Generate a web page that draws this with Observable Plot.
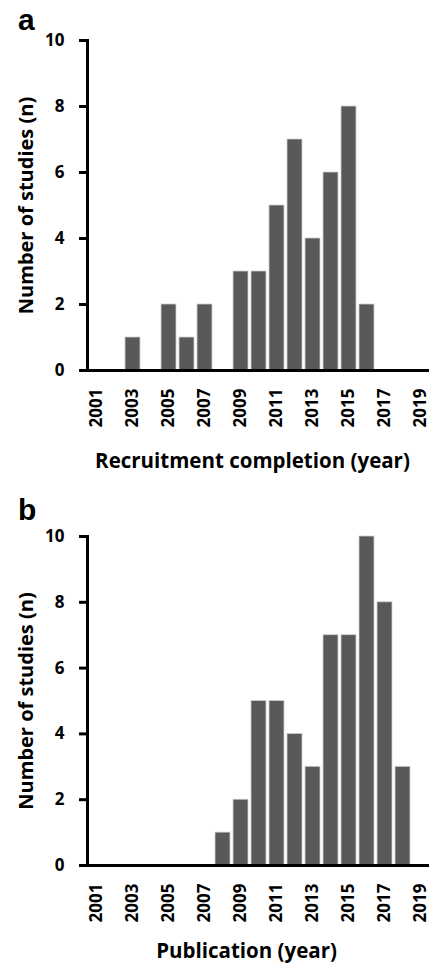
<!DOCTYPE html>
<html>
<head>
<meta charset="utf-8">
<script src="https://cdn.jsdelivr.net/npm/d3@7"></script>
<script src="https://cdn.jsdelivr.net/npm/@observablehq/plot@0.6"></script>
<style>
  html, body { margin: 0; padding: 0; background: #fff; }
  #wrap { position: relative; width: 431px; height: 964px; }
  .letter { position: absolute; left: 18px; font: bold 30px "Liberation Sans", Arial, sans-serif; line-height: 30px; color: #000; }
  #wrap svg { display: block; }
</style>
</head>
<body>
<div id="wrap">
  <div class="letter" style="top:5px">a</div>
  <div class="letter" style="top:495px">b</div>
  <div id="panelA"></div>
  <div id="panelB"></div>
</div>
<script>
const years = [2001, 2002, 2003, 2004, 2005, 2006, 2007, 2008, 2009, 2010, 2011, 2012, 2013, 2014, 2015, 2016, 2017, 2018, 2019];
const recruitment = [0, 0, 1, 0, 2, 1, 2, 0, 3, 3, 5, 7, 4, 6, 8, 2, 0, 0, 0];
const publication = [0, 0, 0, 0, 0, 0, 0, 1, 2, 5, 5, 4, 3, 7, 7, 10, 8, 3, 0];
const xTickYears = [2001, 2003, 2005, 2007, 2009, 2011, 2013, 2015, 2017, 2019];
const yTicks = [0, 2, 4, 6, 8, 10];
const yTitle = "Number of studies (n)";
const xTitleA = "Recruitment completion (year)";
const xTitleB = "Publication (year)";

const FONT = "'Open Sans', Lato, sans-serif";

function panel(values, xTitle, height, marginTop, marginBottom, titleDx, titleDy) {
  const data = years.map((year, i) => ({year, n: values[i]}));
  return Plot.plot({
    width: 431,
    height,
    marginLeft: 87,
    marginRight: 2,
    marginTop,
    marginBottom,
    style: {fontFamily: FONT, fontWeight: "bold", fontSize: "17px", color: "#000", background: "#fff"},
    x: {type: "band", domain: years, paddingInner: 0.17, paddingOuter: 0.06},
    y: {domain: [0, 10]},
    marks: [
      Plot.barY(data, {x: "year", y: "n", fill: "#595959", stroke: "#cfcfcf", strokeWidth: 0.8}),
      Plot.frame({anchor: "left", strokeWidth: 3, stroke: "#000"}),
      Plot.ruleY([0], {strokeWidth: 3, stroke: "#000"}),
      Plot.axisY({ticks: yTicks, tickSize: 8, tickPadding: 15, strokeWidth: 3, label: null, fontSize: 17}),
      Plot.axisX({ticks: xTickYears, tickFormat: d => String(d), tickSize: 0, tickPadding: 18, tickRotate: -90, label: null, fontSize: 17}),
      Plot.text([yTitle], {frameAnchor: "left", rotate: -90, textAnchor: "middle", lineAnchor: "middle", dx: -61, fontSize: 20, fontWeight: "bold", fill: "#000"}),
      Plot.text([xTitle], {frameAnchor: "bottom", textAnchor: "middle", lineAnchor: "middle", dx: titleDx, dy: titleDy, fontSize: 20.5, fontWeight: "bold", fill: "#000"})
    ]
  });
}

document.getElementById("panelA").append(panel(recruitment, xTitleA, 476, 40, 106, -6, 90.5));
document.getElementById("panelB").append(panel(publication, xTitleB, 488, 60, 99, -12, 86));
</script>
</body>
</html>
